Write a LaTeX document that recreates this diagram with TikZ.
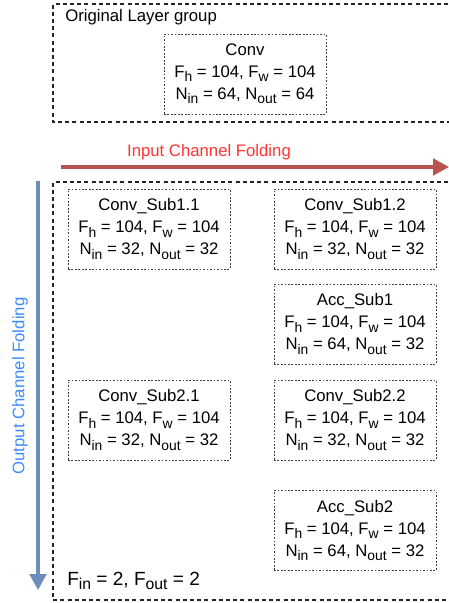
\documentclass[tikz,border=0pt]{standalone}
\usepackage{fontspec}
\setmainfont{Liberation Sans}
\usetikzlibrary{arrows.meta}
\definecolor{foldred}{HTML}{B85450}
\definecolor{foldredtext}{HTML}{FF3333}
\definecolor{foldblue}{HTML}{6C8EBF}
\definecolor{foldbluetext}{HTML}{3D8BFF}
% subscript set in the text font, slightly smaller and lowered
\newcommand\sbs[1]{\raisebox{-3.2pt}{\fontsize{10.4}{12}\selectfont #1}}
\newcommand\sbsl[1]{\raisebox{-3.7pt}{\fontsize{11.8}{13}\selectfont #1}}
\begin{document}
\begin{tikzpicture}[x=0.75pt,y=-0.75pt,
  every node/.style={font=\fontsize{12.55}{16.5}\selectfont},
  group/.style={draw=black!85, line width=1.1pt, dash pattern=on 3pt off 2.4pt},
  layer/.style={draw=black!75, line width=0.55pt, dash pattern=on 1.3pt off 1.3pt,
    minimum width=121.5pt, minimum height=60pt, align=center, inner sep=0pt},
  fold/.style={line width=2.3pt, -{Triangle[length=12pt,width=12.5pt]}},
  label/.style={inner sep=0pt}
]
\useasboundingbox (0,0) rectangle (449,603);
\clip (0,0) rectangle (449,603);

% layer groups (open to the right)
\draw[group] (470,4) -- (53,4) -- (53,122) -- (470,122);
\draw[group] (470,182) -- (53,182) -- (53,600) -- (470,600);

\node[label, anchor=west] (orig) at (65,17) {Original Layer group};

% original convolution
\node[layer] (conv) at (245,74) {Conv\\F\sbs{h} = 104, F\sbs{w} = 104\\N\sbs{in} = 64, N\sbs{out} = 64};

% input channel folding
\coordinate (icfs) at (61,167);
\coordinate (icfe) at (449,167);
\draw[fold, draw=foldred, fill=foldred] (icfs) -- (icfe);
\node[label, text=foldredtext] (icf) at (209,152) {Input Channel Folding};

% output channel folding
\coordinate (ocfs) at (38,181);
\coordinate (ocfe) at (38,590);
\draw[fold, draw=foldblue, fill=foldblue] (ocfs) -- (ocfe);
\node[label, text=foldbluetext, rotate=90] (ocf) at (20,386) {Output Channel Folding};

% folded sub-layers
\node[layer] (s11) at (149,229) {Conv\_Sub1.1\\F\sbs{h} = 104, F\sbs{w} = 104\\N\sbs{in} = 32, N\sbs{out} = 32};
\node[layer] (s12) at (355,229) {Conv\_Sub1.2\\F\sbs{h} = 104, F\sbs{w} = 104\\N\sbs{in} = 32, N\sbs{out} = 32};
\node[layer] (a1) at (355,324) {Acc\_Sub1\\F\sbs{h} = 104, F\sbs{w} = 104\\N\sbs{in} = 64, N\sbs{out} = 32};
\node[layer] (s21) at (149,420) {Conv\_Sub2.1\\F\sbs{h} = 104, F\sbs{w} = 104\\N\sbs{in} = 32, N\sbs{out} = 32};
\node[layer] (s22) at (355,420) {Conv\_Sub2.2\\F\sbs{h} = 104, F\sbs{w} = 104\\N\sbs{in} = 32, N\sbs{out} = 32};
\node[layer] (a2) at (355,530.5) {Acc\_Sub2\\F\sbs{h} = 104, F\sbs{w} = 104\\N\sbs{in} = 64, N\sbs{out} = 32};

\node[label, anchor=base west, font=\fontsize{14.3}{16}\selectfont] (factors) at (67,585) {F\sbsl{in} = 2, F\sbsl{out} = 2};
\end{tikzpicture}
\end{document}
